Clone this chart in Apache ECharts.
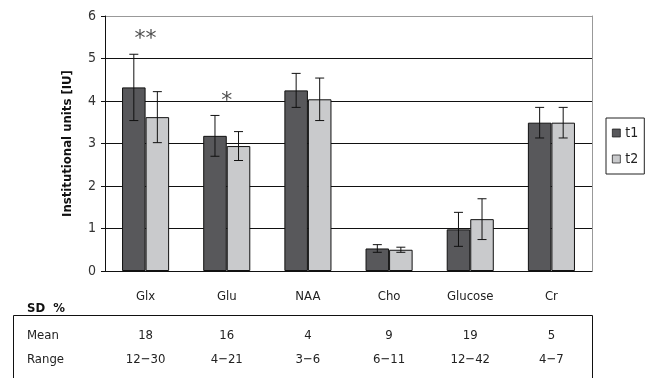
<!DOCTYPE html>
<html><head><meta charset="utf-8">
<script src="https://cdn.jsdelivr.net/npm/echarts@6/dist/echarts.min.js"></script>
<style>html,body{margin:0;padding:0;background:#fff}#c{width:649px;height:378px}</style>
</head><body><div id="c"></div>
<script>
var categories = ['Glx', 'Glu', 'NAA', 'Cho', 'Glucose', 'Cr'];
var t1Values = [4.32, 3.18, 4.25, 0.53, 0.98, 3.49];
var t1Errors = [0.78, 0.48, 0.40, 0.09, 0.40, 0.36];
var t2Values = [3.62, 2.94, 4.04, 0.50, 1.22, 3.49];
var t2Errors = [0.60, 0.34, 0.50, 0.06, 0.48, 0.36];
var starLabels = ['**', '*', '', '', '', ''];
var starValues = [5.45, 4.0, null, null, null, null];
var sdMean = ['18', '16', '4', '9', '19', '5'];
var sdRange = ['12\u221230', '4\u221221', '3\u22126', '6\u221211', '12\u221242', '4\u22127'];
var yTicks = [0, 1, 2, 3, 4, 5, 6];

var FONT = '"Liberation Sans Narrow", "DejaVu Sans Condensed", "Noto Sans", sans-serif';
var C1 = '#58585b', C2 = '#c9cacc';
var chart = echarts.init(document.getElementById('c'));

function errSeries(vals, errs, side) {
  return {
    type: 'custom', silent: true, z: 5,
    data: vals.map(function (v, i) { return [i, v, errs[i]]; }),
    renderItem: function (params, api) {
      var i = api.value(0), v = api.value(1), e = api.value(2);
      var band = api.size([1, 0])[0];
      var w = band * 0.58 / 2;
      var cx = api.coord([i, 0])[0] + side * w / 2;
      var yt = api.coord([i, v + e])[1], yb = api.coord([i, v - e])[1];
      var cap = 4.5;
      var st = { stroke: '#111', lineWidth: 1 };
      return { type: 'group', children: [
        { type: 'line', shape: { x1: cx, y1: yt, x2: cx, y2: yb }, style: st },
        { type: 'line', shape: { x1: cx - cap, y1: yt, x2: cx + cap, y2: yt }, style: st },
        { type: 'line', shape: { x1: cx - cap, y1: yb, x2: cx + cap, y2: yb }, style: st }
      ]};
    }
  };
}

var option = {
  animation: false,
  textStyle: { fontFamily: FONT },
  grid: { left: 105, right: 57, top: 16, bottom: 107 },
  legend: {
    orient: 'vertical', left: 606, top: 118,
    data: ['t1', 't2'], icon: 'rect', itemWidth: 8, itemHeight: 8, itemGap: 12,
    padding: [8, 6, 8, 6],
    borderColor: '#222', borderWidth: 1,
    itemStyle: { borderWidth: 0.7, borderColor: '#111' },
    textStyle: { fontSize: 14, color: '#222', fontFamily: FONT }
  },
  xAxis: {
    type: 'category', data: categories,
    axisLine: { lineStyle: { color: '#111', width: 1 } },
    axisTick: { length: 4, lineStyle: { color: '#111' } },
    axisLabel: { margin: 19, fontSize: 13, color: '#222', fontFamily: FONT }
  },
  yAxis: [{
    type: 'value', min: 0, max: 6, interval: 1,
    name: 'Institutional units [IU]', nameLocation: 'middle', nameGap: 31,
    nameTextStyle: { fontWeight: 'bold', fontSize: 13, color: '#111', fontFamily: FONT },
    axisLine: { show: true, lineStyle: { color: '#111' } },
    axisTick: { show: true, length: 4, lineStyle: { color: '#111' } },
    axisLabel: { fontSize: 14, color: '#333', margin: 9, fontFamily: FONT,
      formatter: function (v) { return yTicks.indexOf(v) >= 0 ? String(v) : ''; } },
    splitLine: { show: true, lineStyle: { color: ['#111', '#111', '#111', '#111', '#111', '#111', '#999'], width: 1 } }
  }, {
    type: 'value', min: 0, max: 6, interval: 1, position: 'right',
    axisLine: { show: true, lineStyle: { color: '#999' } },
    axisTick: { show: false }, axisLabel: { show: false }, splitLine: { show: false }
  }],
  series: [
    { name: 't1', type: 'bar', data: t1Values, barGap: '0%', barCategoryGap: '42%',
      itemStyle: { color: C1, borderColor: '#111', borderWidth: 1 } },
    { name: 't2', type: 'bar', data: t2Values, barGap: '0%', barCategoryGap: '42%',
      itemStyle: { color: C2, borderColor: '#111', borderWidth: 1 } },
    errSeries(t1Values, t1Errors, -1),
    errSeries(t2Values, t2Errors, 1),
    { type: 'scatter', symbolSize: 0, silent: true,
      data: starValues.map(function (v, i) { return [i, v]; }),
      label: { show: true, position: 'inside', fontSize: 22, color: '#222', fontFamily: '"DejaVu Sans", sans-serif',
        formatter: function (p) { return starLabels[p.dataIndex]; } } }
  ]
};
chart.setOption(option);

// SD % table below the chart
var g = [];
g.push({ type: 'text', left: 27, top: 302, style: { text: 'SD  %', font: 'bold 13px ' + FONT, fill: '#111' } });
g.push({ type: 'rect', shape: { x: 13.5, y: 315.5, width: 579, height: 100 }, style: { fill: 'none', stroke: '#111', lineWidth: 1 } });
g.push({ type: 'text', left: 27, top: 329, style: { text: 'Mean', font: '13px ' + FONT, fill: '#222' } });
g.push({ type: 'text', left: 27, top: 353, style: { text: 'Range', font: '13px ' + FONT, fill: '#222' } });
categories.forEach(function (c, i) {
  var x = chart.convertToPixel({ xAxisIndex: 0 }, c);
  g.push({ type: 'text', x: x, y: 336, style: { text: sdMean[i], font: '13px ' + FONT, fill: '#222', textAlign: 'center', textVerticalAlign: 'middle' } });
  g.push({ type: 'text', x: x, y: 360, style: { text: sdRange[i], font: '13px ' + FONT, fill: '#222', textAlign: 'center', textVerticalAlign: 'middle' } });
});
chart.setOption({ graphic: g });
</script></body></html>
